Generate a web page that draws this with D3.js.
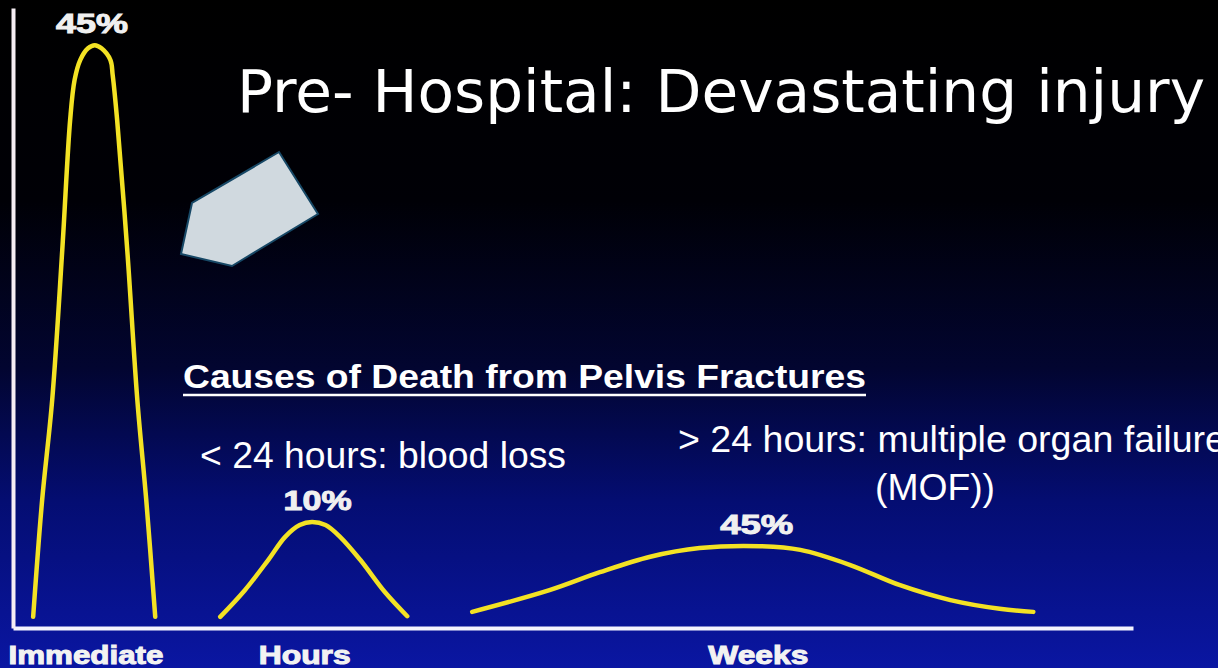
<!DOCTYPE html>
<html lang="en">
<head>
    <meta charset="UTF-8">
    <title>Causes of Death from Pelvis Fractures</title>
    <script src="https://d3js.org/d3.v7.min.js"></script>
    <style>
        body { margin: 0; background: #000; }
        svg { display: block; }
    </style>
</head>
<body>
    <script>
        // time phases on the x axis and the peak label of each curve
        const phases = ['Immediate', 'Hours', 'Weeks'];
        const phaseX = [6.47, 26.0, 66.5];
        const peakLabels = ['45%', '10%', '45%'];
        const peakLabelX = [7.05, 27.2, 66.4];

        // curve points [x, height]
        const immediateCurve = [[1.8, 1.8], [2.6, 20.6], [3.5, 36.8], [4.4, 61], [5.1, 81.9], [5.5, 88.4],
            [6.0, 91.6], [6.7, 93.5], [7.3, 94.0], [7.9, 93.5], [8.7, 91.6], [8.9, 89.2], [9.3, 81.9],
            [10.2, 61], [11.1, 36.8], [11.9, 20.6], [12.7, 1.8]];
        const hoursCurve = [[18.5, 1.8], [20.7, 6.1], [22.8, 11.0], [24.3, 14.7], [25.6, 16.6], [26.7, 17.1],
            [27.9, 16.6], [29.2, 14.7], [31.0, 11.0], [33.2, 5.8], [35.2, 1.9]];
        const weeksCurve = [[41.0, 2.6], [47.9, 6.1], [52.4, 9.0], [56.9, 11.5], [61.3, 12.9], [66.7, 13.2],
            [70.3, 12.6], [74.7, 10.2], [79.2, 6.9], [83.7, 4.5], [88.1, 3.1], [91.1, 2.6]];
        const curves = [immediateCurve, hoursCurve, weeksCurve];

        const W = 1218, H = 668;
        const svg = d3.select("body").append("svg")
            .attr("width", W)
            .attr("height", H);

        // background: black at the top fading into blue
        const grad = svg.append("defs").append("linearGradient")
            .attr("id", "bg").attr("x1", 0).attr("y1", 0).attr("x2", 0).attr("y2", 1);
        [[0, '#000000'], [0.3, '#000006'], [0.55, '#020530'], [0.75, '#040d72'], [1, '#0a16a2']].forEach(s => {
            grad.append("stop").attr("offset", s[0]).attr("stop-color", s[1]);
        });
        svg.append("rect").attr("width", W).attr("height", H).attr("fill", "url(#bg)");

        const x = d3.scaleLinear().domain([0, 100]).range([13, 1133]);
        const y = d3.scaleLinear().domain([0, 100]).range([628, 8]);

        // axes
        const xAxis = svg.append("g")
            .attr("transform", `translate(0,${y(0)})`)
            .call(d3.axisBottom(x).tickValues(phaseX).tickFormat((d, i) => phases[i]).tickSize(0));
        xAxis.select(".domain").attr("stroke", "#f4f4ff").attr("stroke-width", 4);
        const labelW = [155, 92, 100];
        xAxis.selectAll(".tick text")
            .attr("fill", "#f2f2f2")
            .attr("stroke", "#f2f2f2")
            .attr("stroke-width", 1)
            .attr("font-family", "Liberation Sans, Arial, sans-serif")
            .attr("font-weight", "bold")
            .attr("font-size", 25)
            .attr("dy", 0)
            .attr("y", 36)
            .attr("textLength", (d, i) => labelW[i])
            .attr("lengthAdjust", "spacingAndGlyphs");

        const yAxis = svg.append("g")
            .attr("transform", `translate(${x(0)},0)`)
            .call(d3.axisLeft(y).tickValues([]).tickSizeOuter(0));
        yAxis.select(".domain").attr("stroke", "#f6eef4").attr("stroke-width", 4);

        // curves
        const line = d3.line()
            .x(d => x(d[0]))
            .y(d => y(d[1]))
            .curve(d3.curveCatmullRom.alpha(0.5));

        svg.selectAll(".curve")
            .data(curves)
            .enter()
            .append("path")
            .attr("class", "curve")
            .attr("d", line)
            .attr("fill", "none")
            .attr("stroke", "#f3e224")
            .attr("stroke-width", 4.5)
            .attr("stroke-linecap", "round");

        // peak labels
        const peakW = [72, 68, 73];
        svg.selectAll(".peak")
            .data(curves)
            .enter()
            .append("text")
            .attr("class", "peak")
            .attr("x", (d, i) => x(peakLabelX[i]))
            .attr("y", d => y(d3.max(d, p => p[1])) - 12)
            .attr("text-anchor", "middle")
            .attr("font-family", "Liberation Sans, Arial, sans-serif")
            .attr("font-weight", "bold")
            .attr("font-size", 28)
            .attr("fill", "#f0f0f0")
            .attr("stroke", "#f0f0f0")
            .attr("stroke-width", 1)
            .attr("textLength", (d, i) => peakW[i])
            .attr("lengthAdjust", "spacingAndGlyphs")
            .text((d, i) => peakLabels[i]);

        // title
        svg.append("text")
            .attr("x", 237)
            .attr("y", 112)
            .attr("font-family", "DejaVu Sans, sans-serif")
            .attr("font-size", 58)
            .attr("fill", "#ffffff")
            .attr("textLength", 968)
            .attr("lengthAdjust", "spacingAndGlyphs")
            .text("Pre- Hospital: Devastating injury");

        // grey pointer shape
        svg.append("polygon")
            .attr("points", "279,152 318,214 232,266 181,254 192,203")
            .attr("fill", "#d0d9df")
            .attr("stroke", "#174866")
            .attr("stroke-width", 2);

        // annotation texts
        const ann = svg.append("g")
            .attr("font-family", "Liberation Sans, Arial, sans-serif")
            .attr("fill", "#ffffff");
        ann.append("text")
            .attr("x", 183).attr("y", 388)
            .attr("font-size", 34).attr("font-weight", "bold")
            .attr("textLength", 683).attr("lengthAdjust", "spacingAndGlyphs")
            .text("Causes of Death from Pelvis Fractures");
        ann.append("line")
            .attr("x1", 183).attr("x2", 866).attr("y1", 395).attr("y2", 395)
            .attr("stroke", "#ffffff").attr("stroke-width", 2.5);
        ann.append("text")
            .attr("x", 200).attr("y", 468)
            .attr("font-size", 36)
            .attr("textLength", 366).attr("lengthAdjust", "spacingAndGlyphs")
            .text("< 24 hours: blood loss");
        ann.append("text")
            .attr("x", 678).attr("y", 452)
            .attr("font-size", 36)
            .attr("textLength", 548).attr("lengthAdjust", "spacingAndGlyphs")
            .text("> 24 hours: multiple organ failure");
        ann.append("text")
            .attr("x", 875).attr("y", 500)
            .attr("font-size", 36)
            .attr("textLength", 120).attr("lengthAdjust", "spacingAndGlyphs")
            .text("(MOF))");
    </script>
</body>
</html>
